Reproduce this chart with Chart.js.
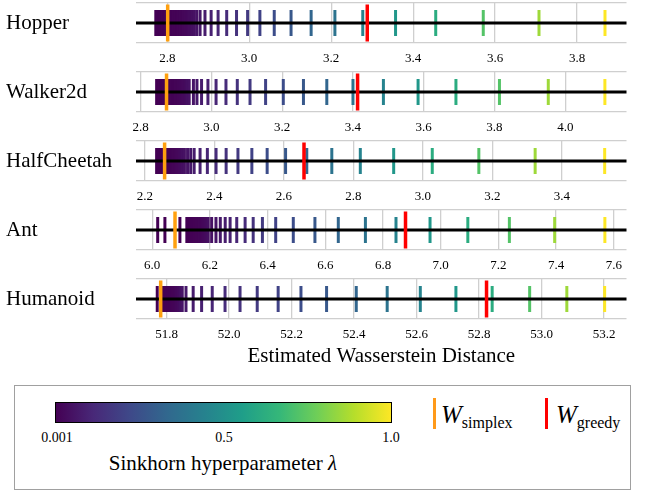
<!DOCTYPE html>
<html><head><meta charset="utf-8">
<script src="https://cdn.jsdelivr.net/npm/chart.js@4.4.1/dist/chart.umd.min.js"></script>
<style>
html,body{margin:0;padding:0;background:#fff;}
body{width:645px;height:491px;position:relative;overflow:hidden;font-family:"Liberation Serif","Times New Roman",serif;color:#000;}
canvas{position:absolute;left:0;}
.lbl{position:absolute;left:6px;font-size:21px;line-height:20px;white-space:nowrap;}
.t{position:absolute;white-space:nowrap;}
</style></head><body>
<div id="rows"></div>
<div class="t" style="left:14px;top:385px;width:617px;height:105px;border:1.5px solid #a0a0a0;box-sizing:border-box;"></div>
<div class="t" id="cbar" style="left:55px;top:402px;width:337px;height:21px;border:1px solid #000;box-sizing:border-box;"></div>
<div class="t" style="left:37px;top:430px;width:40px;text-align:center;font-size:14px;line-height:16px;">0.001</div>
<div class="t" style="left:204px;top:430px;width:40px;text-align:center;font-size:14px;line-height:16px;">0.5</div>
<div class="t" style="left:371px;top:430px;width:40px;text-align:center;font-size:14px;line-height:16px;">1.0</div>
<div class="t" style="left:73px;top:452px;width:300px;text-align:center;font-size:21px;line-height:22px;">Sinkhorn hyperparameter <i>λ</i></div>
<div class="t" style="left:433px;top:398px;width:3px;height:31px;background:#ff9a1a;"></div>
<div class="t" style="left:441px;top:402px;font-size:25px;line-height:25px;"><i>W</i><span style="font-size:16px;position:relative;top:5px;">simplex</span></div>
<div class="t" style="left:545px;top:398px;width:3px;height:31px;background:#ff0000;"></div>
<div class="t" style="left:556px;top:402px;font-size:25px;line-height:25px;"><i>W</i><span style="font-size:16px;position:relative;top:5px;">greedy</span></div>
<script>
// ---- data ----
const envNames = ['Hopper', 'Walker2d', 'HalfCheetah', 'Ant', 'Humanoid'];
const lambdas = [0.001, 0.001174, 0.001379, 0.001619, 0.001902, 0.002233, 0.002622, 0.003079, 0.003616, 0.004246,
  0.004983, 0.005853, 0.006873, 0.008071, 0.009479, 0.011131, 0.013072, 0.015351, 0.018027, 0.02117,
  0.024861, 0.029195, 0.034285, 0.040262, 0.047281, 0.055524, 0.065205, 0.076573, 0.089923, 0.1056,
  0.12401, 0.14563, 0.17102, 0.20084, 0.23585, 0.27697, 0.32525, 0.38196, 0.44855, 0.52676,
  0.61859, 0.72643, 0.85309, 1.0];
const hopperW = [2.772, 2.775, 2.779, 2.783, 2.787, 2.791, 2.795, 2.799, 2.803, 2.807, 2.811, 2.815, 2.819, 2.823, 2.827, 2.831, 2.835, 2.839, 2.843, 2.847, 2.851, 2.854, 2.858, 2.861,
  2.866, 2.872, 2.880, 2.892, 2.907, 2.924, 2.945, 2.969, 2.996, 3.026, 3.061, 3.102, 3.151, 3.209, 3.277, 3.357, 3.455, 3.571, 3.707, 3.868];
const walkerW = [2.845, 2.849, 2.853, 2.857, 2.860, 2.864, 2.868, 2.872, 2.876, 2.879, 2.883, 2.887, 2.891, 2.895, 2.898, 2.902, 2.906, 2.910, 2.914, 2.917, 2.921, 2.925, 2.929, 2.932,
  2.937, 2.949, 2.959, 2.972, 2.990, 3.013, 3.041, 3.073, 3.109, 3.153, 3.203, 3.260, 3.326, 3.400, 3.486, 3.584, 3.691, 3.814, 3.952, 4.112];
const cheetahW = [2.234, 2.237, 2.240, 2.244, 2.247, 2.250, 2.253, 2.256, 2.260, 2.263, 2.266, 2.269, 2.273, 2.276, 2.279, 2.282, 2.286, 2.289, 2.292, 2.295, 2.298, 2.301, 2.305, 2.308,
  2.314, 2.323, 2.332, 2.342, 2.359, 2.380, 2.405, 2.434, 2.468, 2.508, 2.552, 2.605, 2.666, 2.738, 2.820, 2.916, 3.027, 3.161, 3.323, 3.523];
const antW = [6.019, 6.044, 6.096,
  6.120, 6.124, 6.128, 6.131, 6.135, 6.139, 6.142, 6.146, 6.150, 6.153, 6.157, 6.161, 6.164, 6.168, 6.172, 6.175, 6.179, 6.183, 6.186, 6.190, 6.194,
  6.206, 6.221, 6.236, 6.253, 6.270, 6.293, 6.322, 6.350, 6.382, 6.428, 6.489, 6.564, 6.645, 6.739, 6.845, 6.963, 7.094, 7.238, 7.395, 7.569];
const humanoidW = [51.770,
  51.784, 51.787, 51.790, 51.792, 51.795, 51.798, 51.800, 51.803, 51.806, 51.809, 51.812, 51.814, 51.817, 51.820, 51.822, 51.825, 51.828, 51.831, 51.833, 51.836, 51.839, 51.842, 51.844, 51.847, 51.850,
  51.862, 51.885, 51.912, 51.946, 51.987, 52.035, 52.090, 52.157, 52.230, 52.312, 52.407, 52.506, 52.612, 52.726, 52.842, 52.962, 53.081, 53.202];
const simplexW = [2.801, 2.873, 2.257, 6.079, 51.781];
const greedyW = [3.288, 3.413, 2.658, 6.878, 52.824];
const hopperTicks = [2.8, 3.0, 3.2, 3.4, 3.6, 3.8];
const walkerTicks = [2.8, 3.0, 3.2, 3.4, 3.6, 3.8, 4.0];
const cheetahTicks = [2.2, 2.4, 2.6, 2.8, 3.0, 3.2, 3.4];
const antTicks = [6.0, 6.2, 6.4, 6.6, 6.8, 7.0, 7.2, 7.4, 7.6];
const humanoidTicks = [51.8, 52.0, 52.2, 52.4, 52.6, 52.8, 53.0, 53.2];
const xTitle = 'Estimated Wasserstein Distance';

const seriesW = [hopperW, walkerW, cheetahW, antW, humanoidW];
const seriesTicks = [hopperTicks, walkerTicks, cheetahTicks, antTicks, humanoidTicks];

// ---- layout / style ----
const layout = {
  lineY: [22.7, 92, 160.7, 230, 298.7],
  xRange: [[2.7237, 3.9205], [2.7867, 4.1731], [2.1747, 3.5858], [5.9438, 7.644], [51.702, 53.272]],
  half: 20, padTop: 3, axisH: 27, lastAxisH: 50,
  left: 136, right: 18.5
};
const VIRIDIS = ['#440154', '#482878', '#3e4989', '#31688e', '#26828e', '#1f9e89', '#35b779', '#6ece58', '#b5de2b', '#fde725'];
function hex(h) { return [1, 3, 5].map(i => parseInt(h.substr(i, 2), 16)); }
function viridis(t) {
  t = Math.max(0, Math.min(1, t));
  const n = VIRIDIS.length - 1;
  const i = Math.min(n - 1, Math.floor(t * n));
  const f = t * n - i;
  const a = hex(VIRIDIS[i]), b = hex(VIRIDIS[i + 1]);
  const c = a.map((v, k) => Math.round(v + (b[k] - v) * f));
  return `rgb(${c[0]},${c[1]},${c[2]})`;
}
const lamMin = lambdas[0], lamMax = lambdas[lambdas.length - 1];
const markColors = lambdas.map(l => viridis((l - lamMin) / (lamMax - lamMin)));
document.getElementById('cbar').style.background =
  'linear-gradient(to right,' + VIRIDIS.map((c, i) => c + ' ' + (i / (VIRIDIS.length - 1) * 100).toFixed(1) + '%').join(',') + ')';

const SERIF = "'Liberation Serif','Times New Roman',serif";
const rows = document.getElementById('rows');

envNames.forEach((name, r) => {
  const last = r === envNames.length - 1;
  const axisH = last ? layout.lastAxisH : layout.axisH;
  const h = layout.padTop + 2 * layout.half + axisH;
  const top = layout.lineY[r] - layout.half - layout.padTop;
  const cv = document.createElement('canvas');
  cv.width = 645; cv.height = h;
  cv.style.top = top + 'px'; cv.style.width = '645px'; cv.style.height = h + 'px';
  rows.appendChild(cv);
  const lb = document.createElement('div');
  lb.className = 'lbl'; lb.textContent = name;
  lb.style.top = (layout.lineY[r] - 11) + 'px';
  rows.appendChild(lb);

  const [xmin, xmax] = layout.xRange[r];
  const ticks = seriesTicks[r];
  new Chart(cv, {
    type: 'scatter',
    data: {
      datasets: [
        { data: [{ x: greedyW[r], y: 0 }], pointStyle: 'line', pointRotation: 90, pointRadius: 18.5,
          pointBorderColor: '#ff0000', pointBorderWidth: 3.5, clip: false, order: 0 },
        { data: [{ x: simplexW[r], y: 0 }], pointStyle: 'line', pointRotation: 90, pointRadius: 18.5,
          pointBorderColor: '#ffa00f', pointBorderWidth: 3.5, clip: false, order: 1 },
        { data: [{ x: xmin, y: 0 }, { x: xmax, y: 0 }], showLine: true, borderColor: '#000', borderWidth: 3,
          pointRadius: 0, clip: false, order: 2 },
        { data: seriesW[r].map(v => ({ x: v, y: 0 })), pointStyle: 'line', pointRotation: 90, pointRadius: 13,
          pointBorderColor: markColors, pointBorderWidth: 3, clip: false, order: 3 }
      ]
    },
    options: {
      responsive: false, animation: false, devicePixelRatio: 1, events: [],
      layout: { autoPadding: false, padding: { left: layout.left, right: layout.right, top: layout.padTop, bottom: 0 } },
      plugins: { legend: { display: false }, tooltip: { enabled: false } },
      scales: {
        x: {
          type: 'linear', min: xmin, max: xmax,
          afterBuildTicks: s => { s.ticks = ticks.map(v => ({ value: v })); },
          afterFit: s => { s.height = axisH; },
          grid: { color: '#cfcfcf', lineWidth: 1.3, drawTicks: false },
          border: { display: false },
          ticks: { font: { family: SERIF, size: 13 }, color: '#000', padding: 8, maxRotation: 0, autoSkip: false,
            callback: v => Number(v).toFixed(1) },
          title: last ? { display: true, text: xTitle, font: { family: SERIF, size: 21 }, color: '#000', padding: 0 } : { display: false }
        },
        y: {
          type: 'linear', min: -1, max: 1,
          afterBuildTicks: s => { s.ticks = [{ value: -1 }, { value: 1 }]; },
          afterFit: s => { s.width = 0; },
          grid: { color: '#cfcfcf', lineWidth: 1.3, drawTicks: false },
          border: { display: false },
          ticks: { display: false }
        }
      }
    }
  });
});
</script>
</body></html>
